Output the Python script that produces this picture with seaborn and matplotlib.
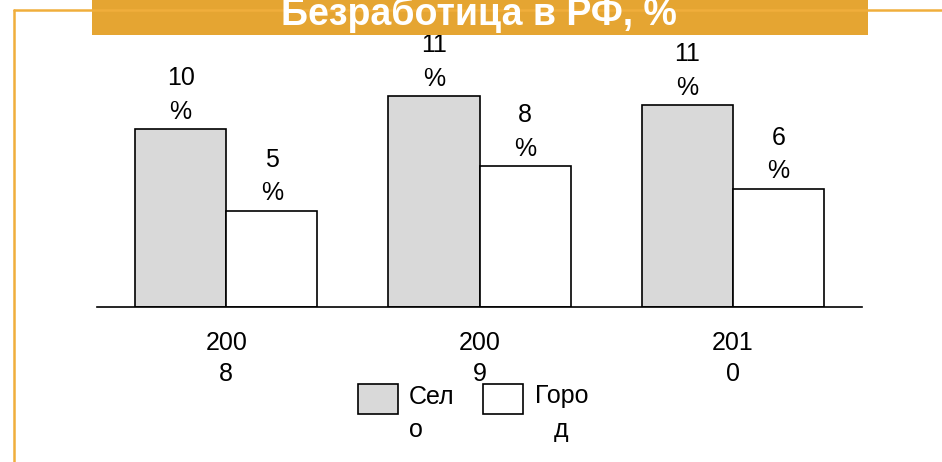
import pandas as pd
import matplotlib.pyplot as plt
import seaborn as sns
from matplotlib.patches import Rectangle, Patch
from matplotlib.lines import Line2D
from matplotlib.legend_handler import HandlerPatch

# Данные (оценка по картинке)
years = ["2008", "2009", "2010"]
year_labels = ["200\n8", "200\n9", "201\n0"]
selo = [9.6, 11.4, 10.9]
gorod = [5.2, 7.6, 6.4]
series_names = ["Село", "Город"]
legend_labels = ["Сел\nо", "Горо\nд"]

df = pd.DataFrame({
    "year": years * 2,
    "value": selo + gorod,
    "group": [series_names[0]] * 3 + [series_names[1]] * 3,
})

sns.set_style("white")
plt.rcParams["font.family"] = ["Liberation Sans", "DejaVu Sans"]
plt.rcParams["text.color"] = "black"
plt.rcParams["xtick.color"] = "black"

W, H = 942, 462
fig = plt.figure(figsize=(W / 100, H / 100), dpi=100)

# оси в пикселях: слева 97, справа 862, низ 307, верх 40
ax = fig.add_axes([97 / W, (H - 307) / H, (862 - 97) / W, (307 - 40) / H])

palette = {"Село": "#D9D9D9", "Город": "white"}
sns.barplot(data=df, x="year", y="value", hue="group", palette=palette,
            width=0.72, edgecolor="black", linewidth=1.2, saturation=1,
            legend=False, ax=ax)

for cont in ax.containers:
    ax.bar_label(cont, labels=[f"{v:.0f}\n%" for v in cont.datavalues],
                 padding=4, fontsize=18, linespacing=1.5, color="black", clip_on=False)

ax.set_xlim(-0.51, 2.51)
ax.set_ylim(0, 267 / 18.5)
ax.set_xticks(range(3))
ax.set_xticklabels(year_labels, fontsize=18, linespacing=1.4, color="black")
ax.tick_params(axis="x", length=0, pad=17)
ax.set_yticks([])
ax.set_xlabel("")
ax.set_ylabel("")
for s in ["top", "left", "right"]:
    ax.spines[s].set_visible(False)
ax.spines["bottom"].set_color("black")
ax.spines["bottom"].set_linewidth(1.2)


# легенда: квадрат на уровне первой строки
def top_patch(legend, orig_handle, xdescent, ydescent, width, height, fontsize):
    return Rectangle((-xdescent, -ydescent + 0.62 * fontsize), width, height)


handles = [Patch(facecolor=palette[n], edgecolor="black", linewidth=1.2) for n in series_names]
leg = fig.legend(handles, legend_labels, ncol=2, frameon=False, fontsize=18,
                 loc="upper left", bbox_to_anchor=(345 / W, (H - 372) / H),
                 handlelength=1.6, handleheight=1.45, handletextpad=0.45,
                 columnspacing=1.16, borderpad=0,
                 handler_map={Patch: HandlerPatch(patch_func=top_patch)})
for t in leg.get_texts():
    t.set_linespacing(1.5)
    t.set_color("black")
leg.get_texts()[1].set_multialignment("center")

# оранжевая рамка и плашка заголовка
orange_line = "#F0AE3C"
fig.add_artist(Line2D([14 / W, 14 / W], [0, (H - 10) / H], color=orange_line, lw=1.8))
fig.add_artist(Line2D([14 / W, 1], [(H - 10) / H, (H - 10) / H], color=orange_line, lw=1.8))
fig.add_artist(Rectangle((92 / W, (H - 35) / H), (868 - 92) / W, 35 / H,
                         transform=fig.transFigure, facecolor="#E5A532", edgecolor="none"))
fig.text(479 / W, (H - 25) / H, "Безработица в РФ, %", ha="center", va="baseline",
         color="white", fontsize=27, fontweight="bold")

fig.savefig("out.png", dpi=100)
